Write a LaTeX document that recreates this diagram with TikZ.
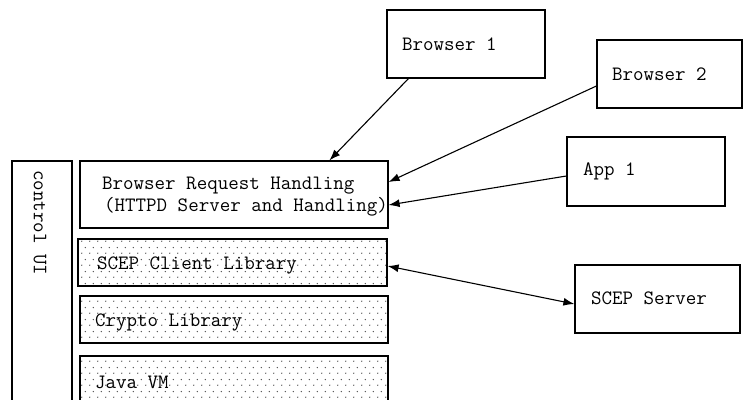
\documentclass[tikz,border=0pt]{standalone}
\usetikzlibrary{arrows.meta,patterns}

% sparse staggered dot fill for the library layers
\pgfdeclarepatternformonly{layerdots}{\pgfpointorigin}{\pgfqpoint{8pt}{12pt}}{\pgfqpoint{8pt}{12pt}}{%
  \pgfpathcircle{\pgfqpoint{2pt}{3pt}}{0.75pt}%
  \pgfpathcircle{\pgfqpoint{6pt}{9pt}}{0.75pt}%
  \pgfusepath{fill}%
}

\tikzset{
  mono/.style={font=\ttfamily\fontsize{20.4}{21}\selectfont},
  box/.style={draw, line width=1.2pt, rectangle, inner sep=0pt},
  layer/.style={box, pattern=layerdots, pattern color=black!70},
  lbl/.style={inner sep=0pt, anchor=west, mono},
  arr/.style={line width=1.1pt, -{Latex[length=11pt,width=8pt]}},
  darr/.style={line width=1.1pt, {Latex[length=11pt,width=8pt]}-{Latex[length=11pt,width=8pt]}},
}

\begin{document}
\begin{tikzpicture}[x=1pt, y=-1pt]
\useasboundingbox (0,0) rectangle (743,399);

% outside clients and server
\node[box, minimum width=158pt, minimum height=68pt] (b1) at (466,44) {};
\node[lbl] at (402,44) {Browser 1};
\node[box, minimum width=145pt, minimum height=68pt] (b2) at (669.5,74) {};
\node[lbl] at (612,74) {Browser 2};
\node[box, minimum width=158pt, minimum height=69pt] (app) at (646,171.5) {};
\node[lbl] at (583,171) {App 1};
\node[box, minimum width=165pt, minimum height=68pt] (srv) at (657.5,299) {};
\node[lbl] at (591,298) {SCEP Server};

% control UI column
\node[box, minimum width=60pt, minimum height=260pt] (ctl) at (42,291) {};
\node[inner sep=0pt, anchor=west, rotate=-90, mono] at (40,170) {control UI};

% stack of layers
\node[box, minimum width=308pt, minimum height=67pt] (brh) at (234,194.5) {};
\node[lbl] at (102,186) {Browser Request Handling};
\node[lbl] at (104,207) {(HTTPD Server and Handling)};
\node[layer, minimum width=309pt, minimum height=47pt] (scl) at (232.5,262.5) {};
\node[lbl] at (97,265) {SCEP Client Library};
\node[layer, minimum width=308pt, minimum height=47pt] (cry) at (234,319.5) {};
\node[lbl] at (95,322) {Crypto Library};
\node[layer, minimum width=308pt, minimum height=60pt] (jvm) at (234,386) {};
\node[lbl] at (95,382) {Java VM};

% connectors
\draw[arr] ([xshift=22pt]b1.south west) -- ([xshift=250pt]brh.north west);
\draw[arr] ([yshift=-12pt]b2.west) -- ([yshift=12.5pt]brh.east);
\draw[arr] ([yshift=-4.5pt]app.west) -- ([yshift=-10.5pt]brh.east);
\draw[darr] ([yshift=-3.5pt]scl.east) -- ([yshift=-5pt]srv.west);
\end{tikzpicture}
\end{document}
